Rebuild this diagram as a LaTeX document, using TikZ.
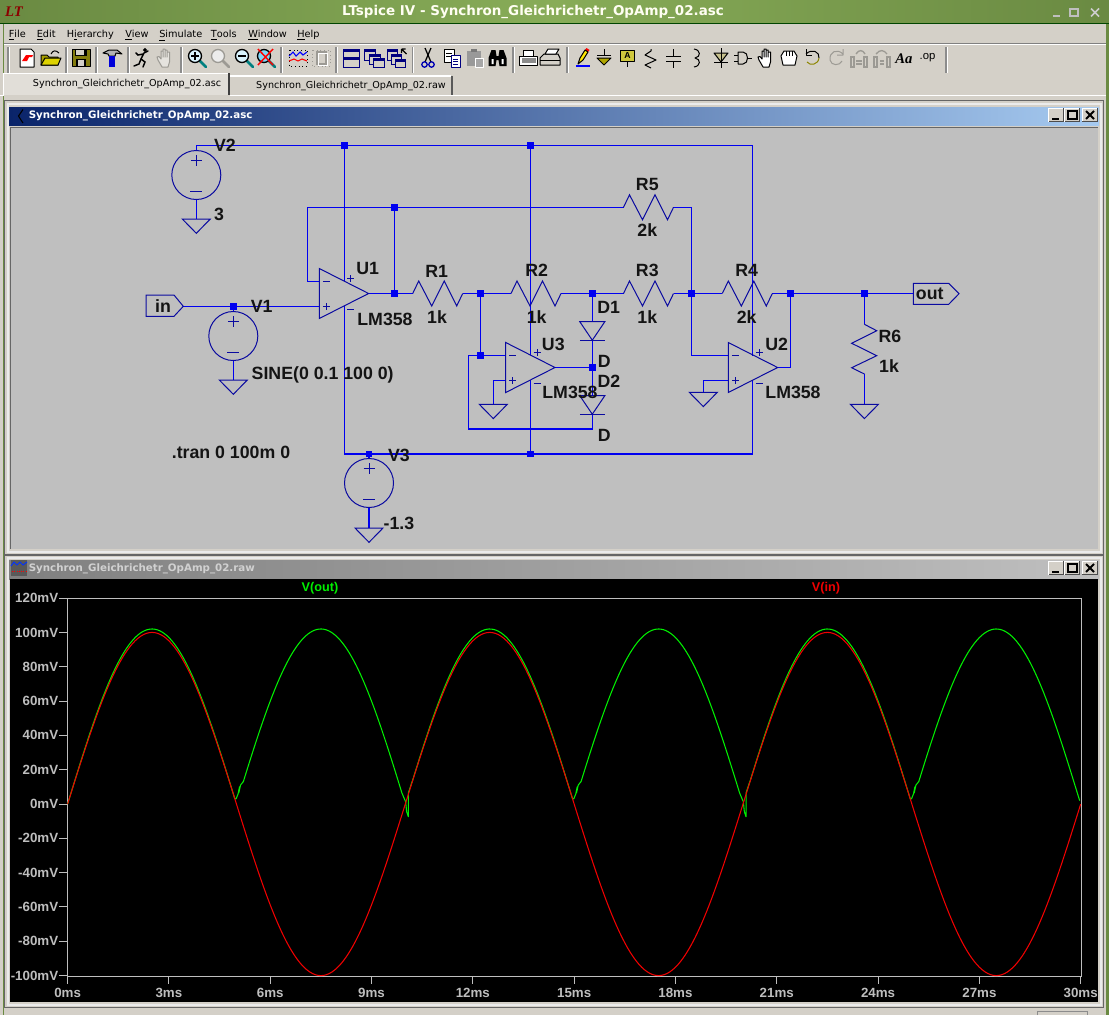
\documentclass[tikz,border=0pt]{standalone}
\usepackage{fontspec}
\setmainfont{Liberation Sans}
\newfontfamily\uifont{DejaVu Sans}
\newfontfamily\ltserif{Liberation Serif}
\usetikzlibrary{calc}
\definecolor{face}{HTML}{D4D0C8}
\definecolor{canvas}{HTML}{BFBFBF}
\definecolor{wirec}{HTML}{0000F0}
\definecolor{symc}{HTML}{0A0AA0}
\definecolor{grA}{HTML}{6A8A42}
\definecolor{grB}{HTML}{88AC58}
\definecolor{navy}{HTML}{000080}
\definecolor{capL}{HTML}{0A246A}
\definecolor{capR}{HTML}{A6CAF0}
\definecolor{tgreen}{HTML}{00F000}
\definecolor{tred}{HTML}{F00000}
\definecolor{axisc}{HTML}{BEBEBE}
\definecolor{grayico}{HTML}{9C9A94}
\tikzset{
 wire/.style={draw=wirec,line width=1pt},
 sym/.style={draw=symc,line width=.75pt},
 junc/.style={fill=wirec,draw=none,minimum size=5.2pt,inner sep=0pt},
 lab/.style={font=\bfseries\fontsize{13.3}{15}\selectfont,inner sep=0pt,text=black!92},
 menu/.style={font=\uifont\fontsize{7.3}{9}\selectfont,inner sep=0pt,anchor=west,text=black},
 tab/.style={font=\uifont\fontsize{7.2}{9}\selectfont,inner sep=0pt,text=black},
 axl/.style={font=\bfseries\fontsize{10}{12}\selectfont,inner sep=0pt,text=axisc},
 axs/.style={draw=axisc,line width=.75pt},
 ico/.style={line width=.75pt,line join=round},
 declare function={tx(\t)=67.6+33.77*\t; vy(\v)=804-1.716*\v;}
}
% schematic symbol helpers
\newcommand\gndsym[2]{\draw[sym] (#1-14,#2) -- (#1+14,#2) -- (#1,#2+14.3) -- cycle;}
\newcommand\vsrc[2]{\draw[sym] (#1,#2) circle (24.5);
 \draw[sym] (#1-5.5,#2-14.5) -- (#1+5.5,#2-14.5) (#1,#2-20) -- (#1,#2-9);
 \draw[sym] (#1-6,#2+16) -- (#1+6,#2+16);}
\newcommand\resh[2]{\draw[sym] (#1,#2) -- (#1+6,#2-12.5) -- (#1+19,#2+12.5) -- (#1+31.5,#2-12.5) -- (#1+44,#2+12.5) -- (#1+50,#2);}
\newcommand\opampsym[2]{\draw[sym] (#1,#2) -- (#1,#2+50) -- (#1+49.3,#2+25) -- cycle;
 \draw[sym] (#1+3.5,#2+13) -- (#1+10.5,#2+13) (#1+3.5,#2+38) -- (#1+10.5,#2+38) (#1+7,#2+34.5) -- (#1+7,#2+41.5);
 \draw[sym] (#1+28,#2+10) -- (#1+35,#2+10) (#1+31.5,#2+6.5) -- (#1+31.5,#2+13.5) (#1+28,#2+41) -- (#1+35,#2+41);}
\newcommand\diodesym[2]{\draw[sym] (#1-12.5,#2) -- (#1+12.5,#2) -- (#1,#2+18.5) -- cycle;
 \draw[sym] (#1-12.5,#2+18.5) -- (#1+12.5,#2+18.5);}
% window buttons
\newcommand\capbtns[1]{%
 \foreach \bx in {1048.5,1064.5,1082}{
  \fill[face] (\bx,#1) rectangle (\bx+15,#1+13.5);
  \draw[white,line width=.6pt] (\bx,#1+13.5) -- (\bx,#1) -- (\bx+15,#1);
  \draw[black!70,line width=.6pt] (\bx+15,#1) -- (\bx+15,#1+13.5) -- (\bx,#1+13.5);}
 \fill[black] (1051.5,#1+10) rectangle (1059,#1+12);
 \draw[black,line width=.8pt] (1068,#1+2.5) rectangle (1077,#1+11);
 \draw[black,line width=.8pt] (1068,#1+3) -- (1077,#1+3);
 \draw[black,line width=1.5pt] (1086,#1+3) -- (1094,#1+11) (1094,#1+3) -- (1086,#1+11);}
% toolbar icons
\newcommand\handico[4]{\begin{scope}[shift={(#1,#2)}]
 \draw[ico,draw=#3,fill=#4] (-3,9) -- (-7,2) -- (-8,-1) -- (-6,-1.5) -- (-4,1) -- (-4,-7) -- (-2,-7) -- (-2,-1) -- (-2,-9) -- (0,-9) -- (0,-1) -- (0,-8) -- (2,-8) -- (2,-1) -- (2,-6) -- (4.5,-6) -- (4.5,4) -- (3,9) -- cycle;
\end{scope}}
\newcommand\zoomico[5]{\begin{scope}[shift={(#1,#2)}]
 \draw[line width=2pt,draw=#4,line cap=round] (3,3) -- (9,9);
 \draw[line width=1pt,draw=#3,fill=#5] (-2,-2) circle (6.5);
\end{scope}}
\newcommand\winbox[4]{\draw[navy,fill=face,line width=.75pt] (#1,#2) rectangle (#1+#3,#2+#4);
 \fill[navy] (#1,#2) rectangle (#1+#3,#2+3);}
\begin{document}
\begin{tikzpicture}[x=.75pt,y=-.75pt]
\useasboundingbox (0,0) rectangle (1109,1015);
% ---------- application frame ----------
\fill[face] (0,0) rectangle (1109,1015);
\fill[grA] (2.5,0) rectangle (4,1015);
\fill[grA] (1106,0) rectangle (1109,1015);
\shade[left color=grA,right color=grB] (0,0) rectangle (554,23);
\shade[left color=grB,right color=grA] (554,0) rectangle (1109,23);
\draw[black!55!green!60!black,line width=.75pt] (0,23.5) -- (1109,23.5);
\node[font=\ltserif\bfseries\itshape\fontsize{11}{12}\selectfont,text=red!55!black,inner sep=0pt] (applogo) at (14,12) {LT};
\node[font=\uifont\bfseries\fontsize{10.1}{12}\selectfont,text=white!95!yellow,inner sep=0pt] (apptitle) at (533,11.5) {LTspice IV - Synchron\_Gleichrichetr\_OpAmp\_02.asc};
\draw[white!75!black,line width=1.1pt] (1053,16) -- (1060,16);
\draw[white!75!black,line width=.9pt] (1070,9) rectangle (1078,16);
\draw[white!80!black,line width=1.1pt] (1091,8.5) -- (1099,16.5) (1099,8.5) -- (1091,16.5);
% menu
\node[menu] (mfile) at (8.5,35.5) {\underline{F}ile};
\node[menu] (medit) at (36.5,35.5) {\underline{E}dit};
\node[menu] (mhier) at (66.5,35.5) {H\underline{i}erarchy};
\node[menu] (mview) at (125,35.5) {\underline{V}iew};
\node[menu] (msim) at (159,35.5) {\underline{S}imulate};
\node[menu] (mtools) at (210.7,35.5) {\underline{T}ools};
\node[menu] (mwin) at (248,35.5) {\underline{W}indow};
\node[menu] (mhelp) at (297,35.5) {\underline{H}elp};
\draw[white,line width=1pt] (4,44.5) -- (1106,44.5);
\draw[black!50,line width=.5pt] (4,43.5) -- (1106,43.5);
% toolbar separators
\foreach \sx in {8,66,96,128,181,281,336,412.5,513,567,946}{
 \draw[black!45,line width=.9pt] (\sx,47) -- (\sx,73);
 \draw[white,line width=.4pt] (\sx+1,47) -- (\sx+1,73);}
% new
\begin{scope}[shift={(27,58)}]
 \draw[ico,black,fill=white] (-7,-9) -- (4,-9) -- (7,-6) -- (7,9) -- (-7,9) -- cycle;
 \fill[red] (-5,3) -- (-1,-3) -- (6,-3) -- (5,-1) -- (2,-1) -- (0,3) -- cycle;
\end{scope}
% open
\begin{scope}[shift={(50,58)}]
 \draw[ico,black,fill=olive!75!yellow] (-9,-3) -- (-3,-3) -- (-1,-1) -- (8,-1) -- (8,7) -- (-9,7) -- cycle;
 \draw[ico,black,fill=yellow!70!olive] (-9,7) -- (-5,0) -- (11,0) -- (8,7) -- cycle;
 \draw[ico,black] (1,-4) .. controls (3,-8) and (6,-8) .. (9,-5);
\end{scope}
% save
\begin{scope}[shift={(81,58)}]
 \draw[ico,black,fill=olive!90!black] (-9,-9) rectangle (9,8);
 \fill[black] (-6,-9) rectangle (6,-2);
 \fill[face] (-5,-8) rectangle (3,-3);
 \fill[black] (-5,1) rectangle (5,8);
 \fill[face] (-3,2) rectangle (3,8);
\end{scope}
% hammer
\begin{scope}[shift={(112,58)}]
 \draw[ico,black,fill=gray!60] (-9,-5) -- (-3,-8) -- (5,-8) -- (10,-4) -- (4,-5) -- (3,-2) -- (-3,-2) -- (-4,-4) -- cycle;
 \fill[blue!85!black] (-3,-2) rectangle (3,9);
\end{scope}
% runner
\begin{scope}[shift={(142,58)},line width=1.1pt,black,line cap=round]
 \draw (3,-8) circle (1.2);
 \draw (2,-5) -- (-1,1) (2,-5) -- (6,-7) (1,-4) -- (-4,-3) -- (-6,-5);
 \draw (-1,1) -- (3,4) -- (1,9) (-1,1) -- (-3,6) -- (-8,8);
\end{scope}
\handico{165}{58}{grayico}{face!60!white}
% zoom icons
\zoomico{197}{58}{black}{teal}{white!85!cyan}
\draw[black,line width=.8pt] (191,56) -- (199,56) (195,52) -- (195,60);
\zoomico{220}{58}{grayico}{grayico}{white!85!gray}
\zoomico{244}{58}{black}{teal}{white!85!cyan}
\draw[black,line width=.8pt] (238,56) -- (246,56);
\zoomico{266}{58}{black}{teal}{cyan!50!white}
\draw[red,line width=1.1pt] (258,49) -- (273,65) (273,49) -- (258,65);
% waveform icon
\begin{scope}[shift={(298,58)}]
 \draw[black,line width=.75pt,dotted] (-9,-8) rectangle (9,8);
 \draw[blue,line width=.8pt] (-9,-2) -- (-5,-6) -- (-2,-2) -- (2,-6) -- (5,-3) -- (9,-6);
 \draw[red,line width=.8pt] (-9,3) -- (-4,1) -- (0,3) -- (4,1) -- (9,3);
\end{scope}
\begin{scope}[shift={(321,58)}]
 \draw[grayico,line width=.75pt,dotted] (-9,-8) rectangle (9,8);
 \draw[grayico,line width=.8pt] (-4,-6) rectangle (5,6);
 \draw[white,line width=.5pt] (-3,-5) rectangle (6,7);
\end{scope}
% window layout icons
\begin{scope}[shift={(351,58)}]
 \winbox{-8}{-9}{16}{18}
 \fill[navy] (-8,-1) rectangle (8,2);
\end{scope}
\begin{scope}[shift={(374,58)}]
 \winbox{-10}{-9}{11}{11}\winbox{-5}{-4}{11}{10}\winbox{-1}{0}{11}{9}
\end{scope}
\begin{scope}[shift={(397.5,58)}]
 \winbox{-10}{-9}{10}{11}\winbox{-6}{-4}{10}{10}\winbox{-2}{1}{10}{8}
 \draw[black,line width=.8pt] (4,-9) -- (4,-5) (4,-9) -- (8,-9) (4,-9) -- (9,-4);
\end{scope}
% scissors
\begin{scope}[shift={(428,58)}]
 \draw[black,line width=.9pt] (-3,-10) -- (3,4) (3,-10) -- (-3,4);
 \draw[blue!70!black,line width=1pt] (-3.5,6.5) circle (2.7) (3.5,6.5) circle (2.7);
\end{scope}
% copy
\begin{scope}[shift={(452,58)}]
 \draw[ico,black,fill=white] (-8,-9) rectangle (2,4);
 \draw[black,line width=.5pt] (-6,-5) -- (0,-5) (-6,-2) -- (0,-2);
 \draw[ico,navy,fill=white] (-1,-3) rectangle (8,9);
 \draw[navy,line width=.5pt] (1,1) -- (6,1) (1,3.5) -- (6,3.5) (1,6) -- (6,6);
\end{scope}
% paste
\begin{scope}[shift={(475,58)}]
 \fill[gray!80] (-8,-7) rectangle (6,8);
 \fill[gray!95!black] (-4,-9) rectangle (2,-6);
 \draw[ico,white,fill=gray!70] (0,0) rectangle (8,9);
\end{scope}
% binoculars
\begin{scope}[shift={(497.5,58)}]
 \fill[black] (-9,8) -- (-9,0) -- (-6,-8) -- (-2,-8) -- (-1,-2) -- (1,-2) -- (2,-8) -- (6,-8) -- (9,0) -- (9,8) -- (2,8) -- (1,2) -- (-1,2) -- (-2,8) -- cycle;
 \fill[white] (-6,1) rectangle (-4,6) (4,1) rectangle (6,6);
\end{scope}
% print preview
\begin{scope}[shift={(528.6,58)}]
 \draw[ico,black,fill=white] (-9,-2) rectangle (9,7);
 \draw[ico,black,fill=white] (-5,-8) rectangle (5,-2);
 \fill[black!45] (-7,0) rectangle (7,5);
\end{scope}
% printer
\begin{scope}[shift={(550,58)}]
 \draw[ico,black,fill=face] (-10,0) -- (-6,-4) -- (8,-4) -- (10,0) -- (10,7) -- (-10,7) -- cycle;
 \draw[ico,black,fill=white] (-5,-4) -- (-2,-9) -- (9,-9) -- (6,-4) -- cycle;
 \draw[black,line width=.7pt] (-10,2) -- (10,2);
\end{scope}
% pencil
\begin{scope}[shift={(583,58)}]
 \draw[blue,line width=1pt] (-7,8) -- (7,8);
 \fill[yellow!90!orange] (-5,6) -- (-3,0) -- (2,-8) -- (5,-6) -- (0,2) -- cycle;
 \fill[red] (2,-8) -- (3.5,-10) -- (6.5,-8) -- (5,-6) -- cycle;
 \draw[ico,black] (-5,6) -- (-3,0) -- (2,-8) -- (5,-6) -- (0,2) -- cycle;
\end{scope}
% ground
\begin{scope}[shift={(604,58)}]
 \draw[ico,black] (0,-9) -- (0,-3) (-7,-3) -- (7,-3);
 \draw[ico,black,fill=olive!70!yellow] (-7,0) -- (7,0) -- (0,7) -- cycle;
\end{scope}
% label
\begin{scope}[shift={(627.5,58)}]
 \draw[ico,black,fill=olive!60!yellow!70!white] (-7,-8) rectangle (7,3);
 \draw[ico,black] (0,3) -- (0,9);
 \node[font=\bfseries\fontsize{6.5}{7}\selectfont,inner sep=0pt] (icoA) at (0,-2.5) {A};
\end{scope}
% resistor, capacitor, inductor, diode, gate
\draw[ico,black] (651,49) -- (651,51) -- (645,55) -- (656,60) -- (645,65) -- (651,68);
\draw[ico,black] (673.6,49) -- (673.6,56) (666,56) -- (681,56) (666,61) -- (681,61) (673.6,61) -- (673.6,68);
\draw[ico,black] (694,49) .. controls (701,50) and (701,57) .. (695,58) .. controls (701,59) and (701,66) .. (694,67);
\begin{scope}[shift={(721,58)}]
 \draw[ico,black,fill=olive!25!face] (-7,-5) -- (7,-5) -- (0,4) -- cycle;
 \draw[ico,black] (0,-10) -- (0,10) (-7,4) -- (7,4);
\end{scope}
\begin{scope}[shift={(743,58)}]
 \draw[ico,black] (-5,-6) -- (0,-6) .. controls (6,-6) and (6,6) .. (0,6) -- (-5,6) -- cycle;
 \draw[ico,black] (-9,-3) -- (-5,-3) (-9,3) -- (-5,3) (4.5,0) -- (9,0);
\end{scope}
\handico{766}{58}{black}{white}
\begin{scope}[shift={(789,58)}]
 \draw[ico,black,fill=white] (-6,7) -- (-8,-2) -- (-5,-7) -- (5,-7) -- (8,-2) -- (6,7) -- cycle;
 \draw[black,line width=.6pt] (-3,-7) -- (-3,-2) (0,-7) -- (0,-2) (3,-7) -- (3,-2);
\end{scope}
% undo / redo
\draw[ico,black] (806,54) .. controls (812,48) and (820,52) .. (819,58);
\draw[ico,olive] (819,58) .. controls (818,65) and (810,66) .. (807,62);
\draw[ico,black] (806,49) -- (806,55) -- (812,55);
\draw[ico,grayico] (843,54) .. controls (837,48) and (829,52) .. (830,60) .. controls (831,66) and (840,66) .. (842,61) (843,49) -- (843,55) -- (837,55);
% two gray icons
\begin{scope}[shift={(859,58)},grayico,line width=.8pt]
 \draw (-8,-1) rectangle (-5,9) (8,-1) rectangle (5,9);
 \draw (-3,3) -- (3,3) (-3,6) -- (3,6);
 \draw[line width=1pt] (-3,-4) .. controls (0,-9) and (4,-8) .. (6,-4);
\end{scope}
\begin{scope}[shift={(882,58)},grayico,line width=.8pt]
 \draw (-8,-1) rectangle (-5,9) (8,-1) rectangle (5,9);
 \draw (-2,3) -- (2,3) (-2,6) -- (2,6);
 \draw[line width=1pt] (-6,-4) .. controls (-2,-9) and (2,-8) .. (5,-4);
\end{scope}
\node[font=\ltserif\bfseries\itshape\fontsize{11}{12}\selectfont,inner sep=0pt] (icoAa) at (904,59) {Aa};
\node[font=\fontsize{8.5}{10}\selectfont,inner sep=0pt] (icoop) at (927.5,58) {.op};
% tabs
\fill[face!70!white] (3.5,73) rectangle (228.5,95);
\draw[white,line width=.8pt] (3.5,95) -- (3.5,73.5) -- (228.5,73.5);
\draw[black!75,line width=.9pt] (229,73) -- (229,95);
\fill[face] (230,76) rectangle (452,95);
\draw[white,line width=.8pt] (230,76) -- (451,76);
\draw[black!65,line width=.9pt] (452,76) -- (452,95);
\draw[white,line width=1pt] (0,95.5) -- (3.5,95.5) (230,95.5) -- (1106,95.5);
\node[tab] (tab1) at (127,84) {Synchron\_Gleichrichetr\_OpAmp\_02.asc};
\node[tab] (tab2) at (351,85.5) {Synchron\_Gleichrichetr\_OpAmp\_02.raw};
% ---------- schematic window ----------
\fill[black!60] (4,100) rectangle (1104,555);
\fill[face] (5,101) rectangle (1103,554);
\draw[white!92!black,line width=2pt] (8,104) -- (1101,104) -- (1101,552) -- (8,552) -- cycle;
\shade[left color=capL,right color=capR] (9,107) rectangle (1099,125);
\fill[canvas] (10,127) rectangle (1098,549);
\draw[black!60,line width=.75pt] (10,549) -- (10,127) -- (1098,127);
\draw[black,line width=.8pt] (23,109.5) -- (18.5,116) -- (21,120) (21,120) -- (23,123);
\node[font=\uifont\bfseries\fontsize{7.7}{10}\selectfont,text=white,inner sep=0pt,anchor=west] (schtitle) at (28.5,116) {Synchron\_Gleichrichetr\_OpAmp\_02.asc};
\capbtns{108}
% named points of the circuit
\coordinate (vtwo) at (196.3,145.3);
\coordinate (topa) at (344.3,145.3);
\coordinate (topb) at (530.3,145.3);
\coordinate (topc) at (752.3,145.3);
\coordinate (fba) at (307.3,207.3);
\coordinate (fbc) at (307.3,281.5);
\coordinate (fbb) at (394.3,207.3);
\coordinate (uaminus) at (319.3,281.5);
\coordinate (uaout) at (368.6,293.5);
\coordinate (nout) at (394.3,293.5);
\coordinate (rone) at (412.7,293.5);
\coordinate (na) at (480.3,293.5);
\coordinate (rtwo) at (511,293.5);
\coordinate (nb) at (592.3,293.5);
\coordinate (rthree) at (623.5,293.5);
\coordinate (nc) at (691.3,293.5);
\coordinate (rfour) at (722.3,293.5);
\coordinate (nd) at (790.5,293.5);
\coordinate (ne) at (864.4,293.5);
\coordinate (vone) at (233.3,306.3);
\coordinate (nf) at (480.3,355.3);
\coordinate (ng) at (592.3,367.3);
\coordinate (vthree) at (369,454);
\coordinate (botb) at (530.3,454);
\coordinate (botc) at (752.3,454);
\coordinate (tagin) at (183.3,306.3);
\coordinate (tagout) at (913.3,293.5);
% wires
\draw[wire] (vtwo) -- (topc) -- (752.3,356);
\draw[wire] (752.3,380) -- (botc) -- (344.3,454) -- (344.3,306);
\draw[wire] (topa) -- (344.3,281);
\draw[wire] (topb) -- (530.3,355);
\draw[wire] (530.3,380) -- (botb);
\draw[wire] (vtwo) -- (196.3,150.5) (196.3,199.5) -- (196.3,219);
\draw[wire] (tagin) -- (319.3,306.3);
\draw[wire] (vone) -- (233.3,311.5) (233.3,360.5) -- (233.3,380);
\draw[wire] (uaminus) -- (fbc) -- (fba) -- (623.5,207.3);
\draw[wire] (673,207.3) -- (691.3,207.3) -- (691.3,355.3) -- (728.3,355.3);
\draw[wire] (fbb) -- (nout);
\draw[wire] (uaout) -- (rone);
\draw[wire] (462.7,293.5) -- (rtwo) (561,293.5) -- (rthree) (673.5,293.5) -- (rfour) (772.3,293.5) -- (tagout);
\draw[wire] (na) -- (nf);
\draw[wire] (505.7,355.3) -- (468.3,355.3) -- (468.3,429) -- (592.3,429) -- (592.3,414.2);
\draw[wire] (505.7,380.3) -- (493.3,380.3) -- (493.3,404.3);
\draw[wire] (555,367.3) -- (ng);
\draw[wire] (nb) -- (592.3,321.7) (592.3,340.2) -- (ng) -- (592.3,395.7);
\draw[wire] (728.3,380.3) -- (703.3,380.3) -- (703.3,392.3);
\draw[wire] (777.6,367.3) -- (790.5,367.3) -- (nd);
\draw[wire] (ne) -- (864.4,324.3) (864.4,374) -- (864.4,404.3);
\draw[wire] (vthree) -- (369,458.5) (369,507.5) -- (369,528);
% symbols
\vsrc{196.3}{175}
\vsrc{233.3}{336}
\vsrc{369}{483}
\gndsym{196.3}{219}
\gndsym{233.3}{380}
\gndsym{369}{528}
\gndsym{493.3}{404.3}
\gndsym{703.3}{392.3}
\gndsym{864.4}{404.3}
\opampsym{319.3}{268.5}
\opampsym{505.7}{342.5}
\opampsym{728.3}{342.5}
\resh{412.7}{293.5}
\resh{511}{293.5}
\resh{623.5}{293.5}
\resh{722.3}{293.5}
\resh{623.5}{207.3}
\draw[sym] (864.4,324.3) -- (876.7,330.7) -- (851.7,343.3) -- (876.7,355.7) -- (851.7,367.7) -- (864.4,374);
\diodesym{592.3}{321.7}
\diodesym{592.3}{395.7}
\draw[sym] (146,295) -- (174,295) -- (183.3,306.3) -- (174,316.3) -- (146,316.3) -- cycle;
\draw[sym] (913.3,283.3) -- (948.7,283.3) -- (959,293.7) -- (948.7,304.3) -- (913.3,304.3) -- cycle;
% junctions
\foreach \jp in {topa,topb,fbb,nout,na,nb,nc,nd,ne,vone,nf,ng,vthree,botb}{
 \node[junc] (dot-\jp) at (\jp) {};}
% schematic labels
\node[lab] (lvtwo) at (225,145.7) {V2};
\node[lab] (lthree) at (219,214) {3};
\node[lab] (lin) at (163,306) {in};
\node[lab] (lvone) at (261.7,306.7) {V1};
\node[lab] (lsine) at (322.7,375) {SINE(0 0.1 100 0)};
\node[lab] (lua) at (367.7,268) {U1};
\node[lab] (lmb) at (385,319) {LM358};
\node[lab] (lra) at (436.7,271) {R1};
\node[lab] (lka) at (437,317) {1k};
\node[lab] (lrb) at (536.7,270.7) {R2};
\node[lab] (lkb) at (536.7,316.7) {1k};
\node[lab] (lrc) at (647.3,270.7) {R3};
\node[lab] (lkc) at (647.3,316.7) {1k};
\node[lab] (lrd) at (746.7,270.7) {R4};
\node[lab] (lkd) at (746.7,316.7) {2k};
\node[lab] (lre) at (647.3,184) {R5};
\node[lab] (lke) at (647.3,230) {2k};
\node[lab] (lrf) at (890,336.7) {R6};
\node[lab] (lkf) at (889,365.7) {1k};
\node[lab] (lda) at (608.7,307.3) {D1};
\node[lab] (ld) at (604.3,361.7) {D};
\node[lab] (ldb) at (609,381) {D2};
\node[lab] (lde) at (604.3,435.7) {D};
\node[lab] (luc) at (553.3,344) {U3};
\node[lab] (lmc) at (570,392.7) {LM358};
\node[lab] (lub) at (776.7,344) {U2};
\node[lab] (lmd) at (793,392.7) {LM358};
\node[lab] (lout) at (929.7,294) {out};
\node[lab] (lvthree) at (399,455) {V3};
\node[lab] (lneg) at (399,523) {-1.3};
\node[lab] (ltran) at (231,452) {.tran 0 100m 0};
% ---------- plot window ----------
\fill[black!60] (4,555) rectangle (1104,1008);
\fill[face] (5,556) rectangle (1103,1007);
\draw[white!92!black,line width=2pt] (8,558) -- (1101,558) -- (1101,1005) -- (8,1005) -- cycle;
\shade[left color=black!50,right color=black!25] (9,560) rectangle (1099,579);
\fill[black] (10,579) rectangle (1098,1002);
\begin{scope}[shift={(19,568)}]
 \fill[black!65] (-8,-8) rectangle (8,8);
 \draw[blue!80!cyan,line width=.7pt] (-8,-2) -- (-5,-6) -- (-2,-3) -- (1,-6) -- (4,-3) -- (8,-6);
 \draw[red,line width=.7pt,densely dotted] (-7,3) -- (7,3);
\end{scope}
\node[font=\uifont\bfseries\fontsize{7.7}{10}\selectfont,text=white!82!black,inner sep=0pt,anchor=west] (plottitle) at (28.5,568.5) {Synchron\_Gleichrichetr\_OpAmp\_02.raw};
\capbtns{561}
% axes
\draw[axs] (67.6,598.5) rectangle (1081,976);
\foreach \v in {-100,-80,...,120}{
 \draw[axs] (59,{vy(\v)}) -- (67.6,{vy(\v)});
 \node[axl,anchor=east] (ylab\v) at (58.5,{vy(\v)}) {\v mV};}
\foreach \t in {0,3,...,30}{
 \draw[axs] ({tx(\t)},976) -- ({tx(\t)},983.5);
 \node[axl] (xlab\t) at ({tx(\t)},992.5) {\t ms};}
\node[font=\bfseries\fontsize{9.5}{11}\selectfont,text=tgreen,inner sep=0pt] (tout) at (320,588.5) {V(out)};
\node[font=\bfseries\fontsize{9.5}{11}\selectfont,text=tred,inner sep=0pt] (tin) at (826,588.5) {V(in)};
% traces
\begin{scope}[line width=.8pt,tgreen,line join=round]
 \foreach \k in {0,10,20}{
  \ifnum\k=0
   \draw plot[smooth,domain=0:4.95,samples=70,variable=\t] ({tx(\t)},{vy(102*sin(36*\t))}) -- ({tx(4.99)},{vy(3)}) -- ({tx(5.05)},{vy(6)}) -- ({tx(5.09)},{vy(10)}) -- ({tx(5.07)},{vy(6.5)}) -- ({tx(5.12)},{vy(11)}) -- ({tx(5.2)},{vy(13)});
  \else
   \draw plot[smooth,domain=\k+0.2:\k+4.95,samples=70,variable=\t] ({tx(\t)},{vy(102*abs(sin(36*\t)))}) -- ({tx(\k+4.99)},{vy(3)}) -- ({tx(\k+5.05)},{vy(6)}) -- ({tx(\k+5.09)},{vy(10)}) -- ({tx(\k+5.07)},{vy(6.5)}) -- ({tx(\k+5.12)},{vy(11)}) -- ({tx(\k+5.2)},{vy(13)});
  \fi
  \ifnum\k<20
   \draw plot[smooth,domain=\k+5.2:\k+9.9,samples=70,variable=\t] ({tx(\t)},{vy(102*abs(sin(36*\t)))}) -- ({tx(\k+10.01)},{vy(1.3)}) -- ({tx(\k+10.04)},{vy(-4.5)}) -- ({tx(\k+10.09)},{vy(-7.4)}) -- ({tx(\k+10.09)},{vy(6.4)}) -- ({tx(\k+10.2)},{vy(13)});
  \else
   \draw plot[smooth,domain=25.2:29.97,samples=70,variable=\t] ({tx(\t)},{vy(102*abs(sin(36*\t)))});
  \fi
 }
\end{scope}
\draw[line width=.8pt,tred,line join=round] plot[smooth,domain=0:30,samples=361,variable=\t] ({tx(\t)},{vy(100*sin(36*\t))});
% status bar
\draw[black!45,line width=.6pt] (1037,1015) -- (1037,1011.7) -- (1087,1011.7) -- (1087,1015);
\end{tikzpicture}
\end{document}
